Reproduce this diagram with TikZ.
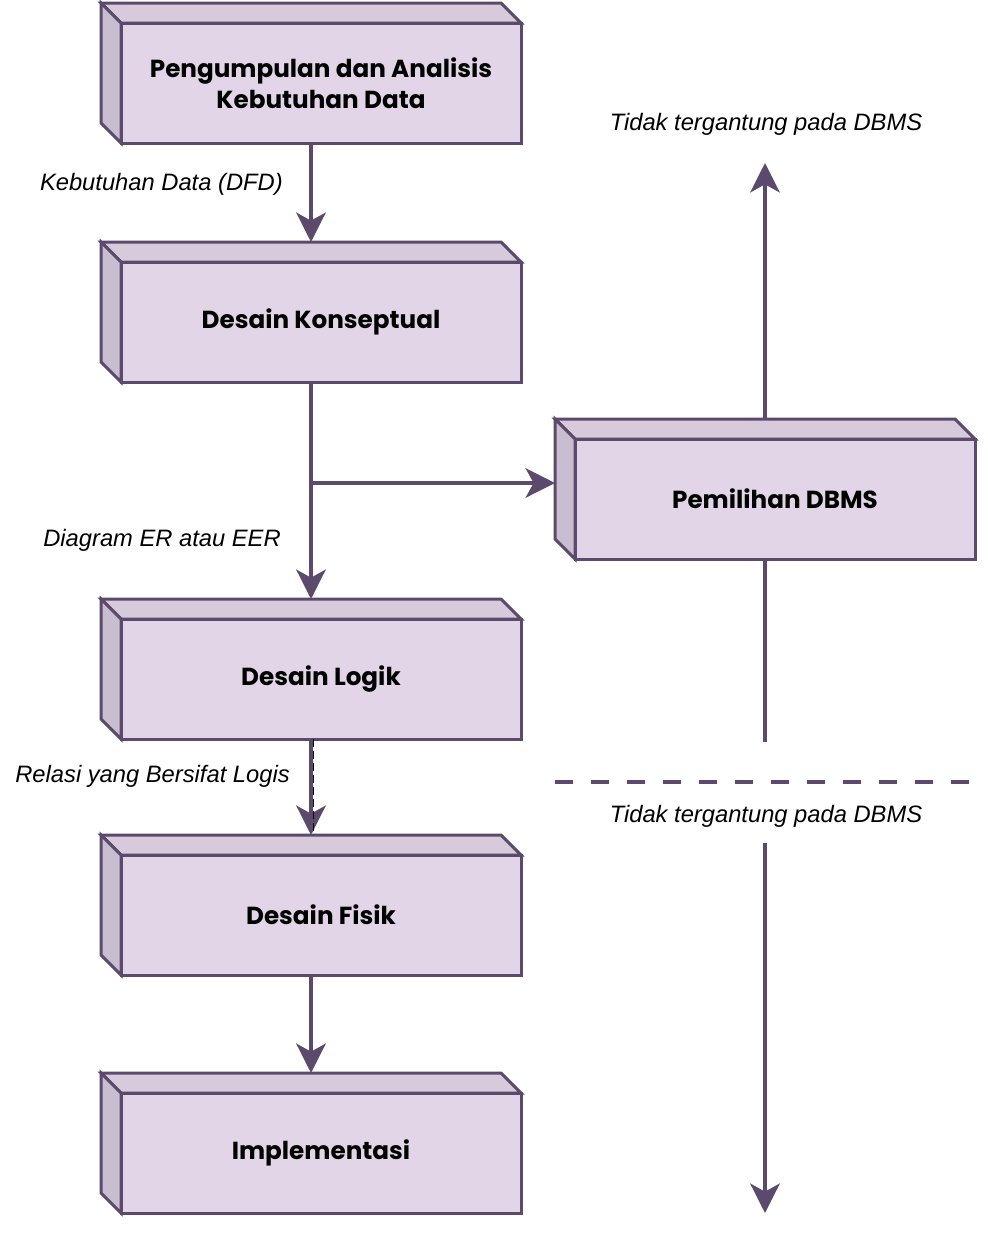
\documentclass[tikz,border=0pt]{standalone}
\usepackage{fontspec}
\usepackage{tikz}
\usetikzlibrary{arrows.meta}
\usetikzlibrary{calc}
\usetikzlibrary{positioning}
\newfontfamily\boxfont{Poppins}
\newfontfamily\labelfont{Liberation Sans}

\definecolor{stroke}{HTML}{5C4A6D}
\definecolor{frontfill}{HTML}{E1D5E7}
\definecolor{topfill}{HTML}{D6CADB}
\definecolor{sidefill}{HTML}{C9BED0}

\tikzset{
  cube/.style={draw=stroke,fill=frontfill,line width=2.25pt,outer sep=0pt,
    minimum width=300pt,minimum height=90pt,align=center,
    font=\boxfont\bfseries\fontsize{18.5}{23.5}\selectfont},
  topface/.style={draw=stroke,fill=topfill,line width=2.25pt,line join=miter},
  sideface/.style={draw=stroke,fill=sidefill,line width=2.25pt,line join=miter},
  flow/.style={draw=stroke,line width=3.2pt,-{Stealth[length=22pt,width=22pt,inset=6pt]}},
  plain/.style={draw=stroke,line width=3.2pt},
  lbl/.style={inner sep=0pt,font=\labelfont\itshape\fontsize{17.8}{21}\selectfont}
}

\begin{document}
\begin{tikzpicture}[x=0.75pt,y=-0.75pt]
  \useasboundingbox (0,0) rectangle (988,1236);

  % boxes
  \node[cube] (pengumpulan) at (321,83) {Pengumpulan dan Analisis\\Kebutuhan Data};
  \node[cube] (konseptual) at (321,322) {Desain Konseptual};
  \node[cube] (logik) at (321,679) {Desain Logik};
  \node[cube] (fisik) at (321,915) {Desain Fisik};
  \node[cube] (implementasi) at (321,1153) {Implementasi};
  \node[cube] (pemilihan) at (775,499) {Pemilihan DBMS};

  \foreach \n in {pengumpulan,konseptual,logik,fisik,implementasi,pemilihan} {
    \draw[topface] (\n.north west) -- ++(-20,-20) -- ++(400,0) -- (\n.north east) -- cycle;
    \draw[sideface] (\n.north west) -- ++(-20,-20) -- ++(0,120) -- (\n.south west) -- cycle;
  }

  % labels
  \node[lbl,anchor=east] (dfd) at (283,184) {Kebutuhan Data (DFD)};
  \node[lbl,anchor=east] (er) at (281,540) {Diagram ER atau EER};
  \node[lbl,anchor=east] (relasi) at (290,776) {Relasi yang Bersifat Logis};
  \node[lbl] (atas) at (766,124) {Tidak tergantung pada DBMS};
  \node[lbl] (bawah) at (766,816) {Tidak tergantung pada DBMS};

  \coordinate (masuk) at ($(pemilihan.west)+(-20,-16)$);
  \coordinate (ujungatas) at (765,163);
  \coordinate (putus) at (765,742);
  \coordinate (lanjut) at (765,843);
  \coordinate (ujungbawah) at (765,1213);
  \coordinate (gariskiri) at (555,782);
  \coordinate (gariskanan) at (970,782);

  % connectors
  \draw[flow] ($(pengumpulan.south)+(-10,0)$) -- ($(konseptual.north)+(-10,-20)$);
  \draw[flow] ($(konseptual.south)+(-10,0)$) -- ($(logik.north)+(-10,-20)$);
  \draw[flow] ($(konseptual.south)+(-10,0)$) |- (masuk);
  \draw[flow] ($(logik.south)+(-10,0)$) -- ($(fisik.north)+(-10,-20)$);
  \draw[black,line width=0.75pt,dash pattern=on 6pt off 3pt] ($(logik.south)+(-8,0)$) -- ($(fisik.north)+(-8,-20)$);
  \draw[flow] ($(fisik.south)+(-10,0)$) -- ($(implementasi.north)+(-10,-20)$);

  \draw[flow] ($(pemilihan.north)+(-10,-20)$) -- (ujungatas);
  \draw[plain] ($(pemilihan.south)+(-10,0)$) -- (putus);
  \draw[plain,dash pattern=on 13.5pt off 13.5pt] (gariskiri) -- (gariskanan);
  \draw[flow] (lanjut) -- (ujungbawah);
\end{tikzpicture}
\end{document}
